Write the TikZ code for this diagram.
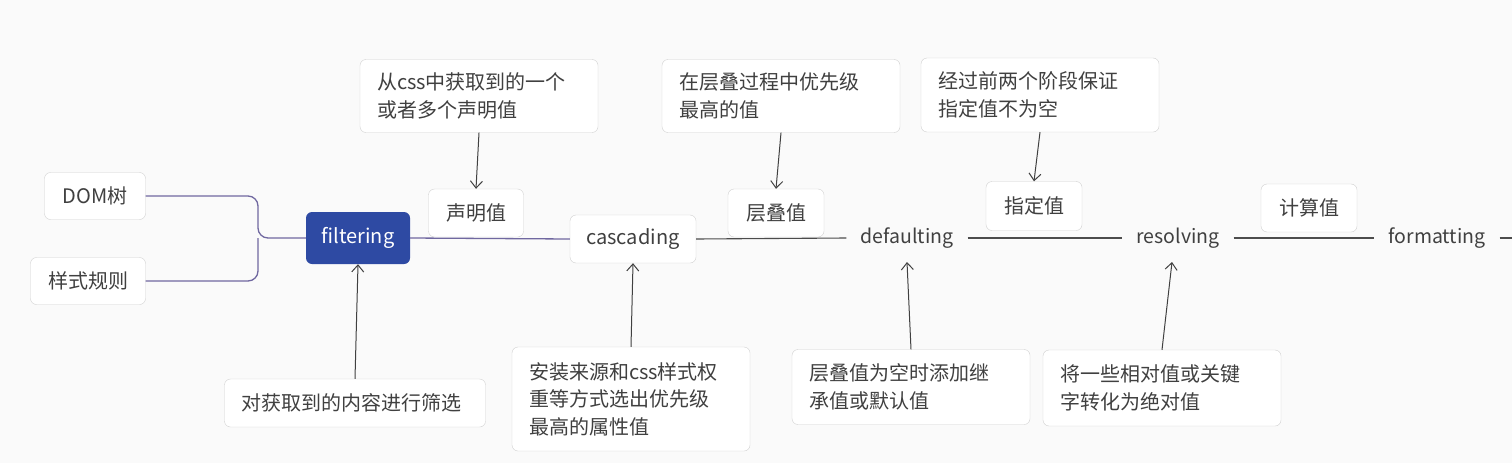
\documentclass[tikz,border=0pt]{standalone}
\usepackage{fontspec}
\setmainfont{Noto Sans CJK SC}
\usetikzlibrary{arrows.meta}
\definecolor{pur}{RGB}{112,104,160}
\definecolor{fblue}{RGB}{46,74,163}
\begin{document}
\begin{tikzpicture}[x=1pt,y=-1pt,
  box/.style={draw=black!18,fill=white,rounded corners=6pt,inner sep=0pt,font=\fontsize{20}{27.5}\selectfont,text=black!75},
  lbl/.style={font=\fontsize{19.5}{27}\selectfont,text=black!75,inner xsep=14pt},
  note/.style={box,align=left,inner xsep=17pt,text width=#1},
  arr/.style={draw=black!75,line width=1pt,-{Straight Barb[length=7pt,width=12pt]}},
  pl/.style={draw=pur,line width=1.3pt},
  gl/.style={draw=black!70,line width=1.1pt}]
\fill[black!2] (0,0) rectangle (1512,463);
\useasboundingbox (0,0) rectangle (1512,463);
\node[box,minimum width=101pt,minimum height=47pt] (dom) at (95,196) {DOM树};
\node[box,minimum width=115pt,minimum height=47pt] (rule) at (88,281) {样式规则};
\node[box,draw=none,text=white,minimum width=104pt,minimum height=52pt,fill=fblue] (filt) at (358,238) {filtering};
\node[box,minimum width=95pt,minimum height=48pt] (decl) at (476,213) {声明值};
\node[box,minimum width=126pt,minimum height=48pt] (casc) at (633,239) {cascading};
\node[box,minimum width=96pt,minimum height=48pt] (cv) at (776,213) {层叠值};
\node[box,minimum width=96pt,minimum height=49pt] (sv) at (1034,206) {指定值};
\node[box,minimum width=96pt,minimum height=48pt] (comp) at (1309,208) {计算值};
\node[lbl] (def) at (907,238) {defaulting};
\node[lbl] (res) at (1178,238) {resolving};
\node[lbl] (fmt) at (1437,238) {formatting};
\coordinate (end) at (1512,238);
\node[note=204pt,minimum height=73pt] (t1) at (479,96) {从css中获取到的一个\\或者多个声明值};
\node[note=204pt,minimum height=73pt] (t2) at (781,96) {在层叠过程中优先级\\最高的值};
\node[note=204pt,minimum height=74pt] (t3) at (1040,95) {经过前两个阶段保证\\指定值不为空};
\node[note=227pt,minimum height=48pt] (b1) at (355,403) {对获取到的内容进行筛选};
\node[note=204pt,minimum height=104pt] (b2) at (631,399) {安装来源和css样式权\\重等方式选出优先级\\最高的属性值};
\node[note=204pt,minimum height=75pt] (b3) at (911,387) {层叠值为空时添加继\\承值或默认值};
\node[note=204pt,minimum height=76pt] (b4) at (1162,388) {将一些相对值或关键\\字转化为绝对值};
\draw[pl,rounded corners=10pt] (dom.east) -| (258,238) -- (filt.west);
\draw[pl,rounded corners=10pt] (rule.east) -| (258,238);
\draw[pl] (filt.east) -- (casc.west);
\draw[gl] (casc.east) -- (def.west);
\draw[gl] (def.east) -- (res.west);
\draw[gl] (res.east) -- (fmt.west);
\draw[gl] (fmt.east) -- (end);
\draw[arr] (t1.south) -- (decl.north);
\draw[arr] (t2.south) -- (cv.north);
\draw[arr] (t3.south) -- (sv.north);
\draw[arr] (b1.north) -- (filt.south);
\draw[arr] (b2.north) -- (casc.south);
\draw[arr] (b3.north) -- (907,262);
\draw[arr] (b4.north) -- (1172,262);
\end{tikzpicture}
\end{document}
